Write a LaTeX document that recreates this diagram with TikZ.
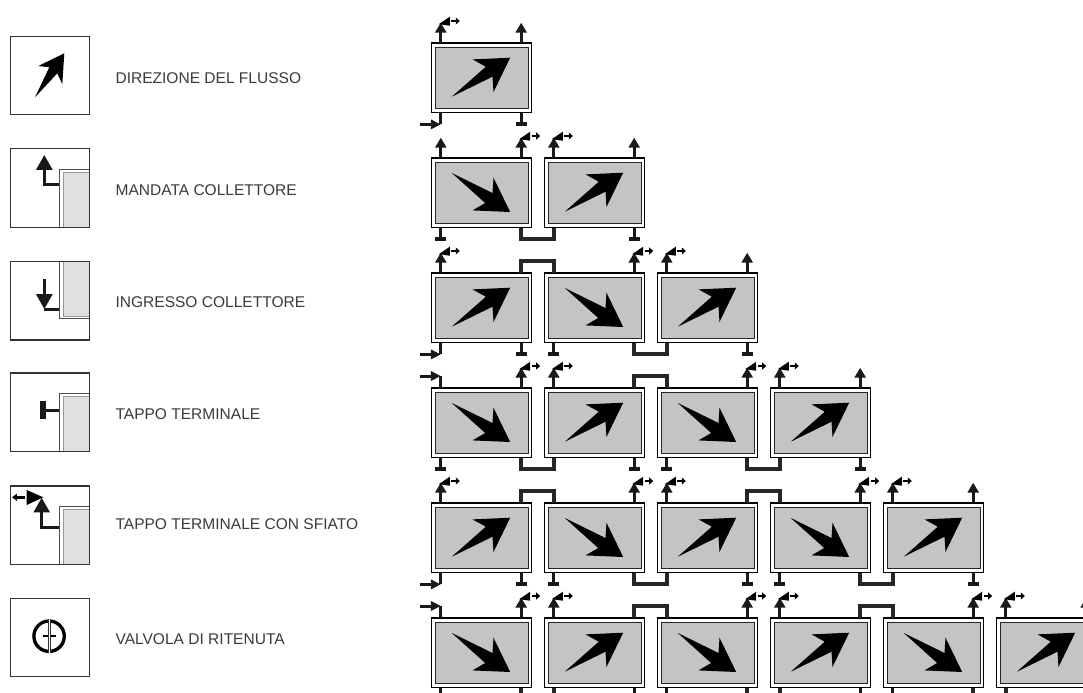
\documentclass[tikz,border=0pt]{standalone}
\usepackage{fontspec}
\setmainfont{Liberation Sans}
\usepackage{xcolor}
\usepackage{tikz}
\usetikzlibrary{arrows.meta}
\definecolor{panelgray}{HTML}{C3C4C6}
\definecolor{collgray}{HTML}{E0E0DE}
\definecolor{textgray}{HTML}{3A3A3A}

% Port symbols, #1 is the coordinate on the panel edge
\newcommand{\plainport}[1]{
    \coordinate (#1-end) at ([shift={(0,-20)}]#1);
    \draw[portarrow] (#1) -- (#1-end);
}
\newcommand{\ventport}[1]{
    \plainport{#1}
    \fill[shift={(#1)}] (-2,-18.5) -- (9,-26) -- (9,-17) -- cycle;
    \coordinate (#1-ventA) at ([shift={(10.5,-21.7)}]#1);
    \coordinate (#1-ventB) at ([shift={(19,-21.7)}]#1);
    \draw[ventline] (#1-ventA) -- (#1-ventB);
}
\newcommand{\capport}[1]{
    \coordinate (#1-end) at ([shift={(0,13.3)}]#1);
    \draw[portline, -{Rectangle[length=3pt,width=8.25pt]}] (#1) -- (#1-end);
}
% #2 is 1 below the panel, -1 above it
\newcommand{\inletport}[2]{
    \coordinate (#1-corner) at ([shift={(0,#2*11.7)}]#1);
    \coordinate (#1-tail) at ([shift={(-20.7,#2*11.7)}]#1);
    \draw[portline] (#1) -- (#1-corner);
    \draw[portline, -{Triangle[length=7.5pt,width=7pt]}] (#1-tail) -- (#1-corner);
}
\newcommand{\jumperlink}[3]{
    \coordinate (#1-over) at ([shift={(0,#3*11.5)}]#1);
    \draw[jumper] (#1) -- (#1-over) -| (#2);
}

\begin{document}
\begin{tikzpicture}[
    x=0.75pt, y=-0.75pt,
    panel/.style={
        draw=black,
        fill=white,
        line width=0.75pt,
        inner sep=0pt,
        minimum width=75.4pt,
        minimum height=51.75pt,
        anchor=north west
    },
    panelcore/.style={
        draw=black!85,
        fill=panelgray,
        line width=0.75pt,
        inner sep=0pt,
        minimum width=70.1pt,
        minimum height=46.1pt,
        anchor=north west
    },
    legbox/.style={
        draw=black!80,
        fill=white,
        line width=0.75pt,
        inner sep=0pt,
        minimum size=58.7pt,
        anchor=north west
    },
    collector/.style={
        draw=black!70,
        fill=white,
        line width=0.6pt,
        inner sep=0pt,
        minimum width=22pt,
        minimum height=43.3pt
    },
    collectorcore/.style={
        draw=black!40,
        fill=collgray,
        line width=0.5pt,
        inner sep=0pt,
        minimum width=19.7pt,
        minimum height=41.2pt
    },
    legtext/.style={
        anchor=west,
        inner sep=0pt,
        text=textgray,
        font=\fontsize{11.65}{13}\selectfont
    },
    portline/.style={draw=black!90, line width=2.25pt},
    portarrow/.style={portline, -{Triangle[length=7.5pt,width=8.25pt]}},
    ventline/.style={draw=black, line width=1.7pt, -{Triangle[length=3pt,width=5.2pt]}},
    jumper/.style={draw=black!85, line width=2.6pt},
    bigarrow/.style={fill=black}
]
    \useasboundingbox (0,0) rectangle (1083,693);
    \clip (0,0) rectangle (1083,693);

    % --- LEGEND ---
    \foreach \n/\boxy/\laby/\lab in {
        1/36/78/DIREZIONE DEL FLUSSO,
        2/148.3/190/MANDATA COLLETTORE,
        3/261/302.5/INGRESSO COLLETTORE,
        4/372.7/414.5/TAPPO TERMINALE,
        5/485.7/524.5/TAPPO TERMINALE CON SFIATO,
        6/597.7/639.5/VALVOLA DI RITENUTA} {
        \node(legbox-\n)[legbox] at (10.3,\boxy) {};
        \node(legtext-\n)[legtext] at (115.3,\laby) {\lab};
    }

    % Collector stub in the corner of a legend box
    \foreach \n in {2, 4, 5} {
        \node(coll-\n)[collector, anchor=north east] at ([shift={(0,20.6)}]legbox-\n.north east) {};
        \node(collcore-\n)[collectorcore, anchor=north east] at ([shift={(0,2.8)}]coll-\n.north east) {};
    }
    \node(coll-3)[collector, anchor=south east] at ([shift={(0,-21)}]legbox-3.south east) {};
    \node(collcore-3)[collectorcore, anchor=south east] at ([shift={(0,-2.8)}]coll-3.south east) {};

    % Box outline goes back over the collector
    \foreach \n in {2, 3, 4, 5} {
        \draw[black!80, line width=0.75pt] (legbox-\n.north west) rectangle (legbox-\n.south east);
    }

    % Flow direction
    \fill[bigarrow, shift={(legbox-1.north west)}] (24.7,61.3) -- (39,31.3) -- (28,30)
        -- (54,17.3) -- (52,48.3) -- (47,37.3) -- cycle;

    % Outlet
    \coordinate (mandata-start) at ([shift={(0,16)}]coll-2.north west);
    \coordinate (mandata-end) at ([shift={(34,6.7)}]legbox-2.north west);
    \draw[portline, -{Triangle[length=11.2pt,width=12pt]}] (mandata-start) -| (mandata-end);

    % Inlet
    \coordinate (ingresso-corner) at ([shift={(34,48)}]legbox-3.north west);
    \coordinate (ingresso-start) at ([shift={(34,18.3)}]legbox-3.north west);
    \coordinate (ingresso-end) at (coll-3.west |- ingresso-corner);
    \draw[portline] (ingresso-corner) -- (ingresso-end);
    \draw[portline, -{Triangle[length=11.2pt,width=12pt]}] (ingresso-start) -- (ingresso-corner);

    % End plug
    \coordinate (tappo-start) at ([shift={(0,16.7)}]coll-4.north west);
    \coordinate (tappo-end) at ([shift={(30,37.3)}]legbox-4.north west);
    \draw[portline, -{Rectangle[length=3.9pt,width=13pt]}] (tappo-start) -- (tappo-end);

    % End plug with vent
    \coordinate (sfiato-start) at ([shift={(0,21.4)}]coll-5.north west);
    \coordinate (sfiato-end) at ([shift={(31.4,12)}]legbox-5.north west);
    \draw[portline, -{Triangle[length=11pt,width=11.8pt]}] (sfiato-start) -| (sfiato-end);
    \fill[shift={(legbox-5.north west)}] (16.4,4.3) -- (16.4,19.3) -- (33,11.6) -- cycle;
    \coordinate (sfiato-ventA) at ([shift={(15,11.6)}]legbox-5.north west);
    \coordinate (sfiato-ventB) at ([shift={(1.7,11.6)}]legbox-5.north west);
    \draw[black, line width=1.9pt, -{Triangle[length=3.6pt,width=5pt]}] (sfiato-ventA) -- (sfiato-ventB);

    % Check valve
    \node(valve)[circle, draw=black, line width=2.5pt, inner sep=0pt, minimum size=22.8pt]
        at ([shift={(38.8,38.5)}]legbox-6.north west) {};
    \draw[black, line width=1.8pt] ([xshift=-4.9pt]valve.center) -- ([xshift=4.9pt]valve.center);
    \draw[white, line width=1.2pt] (valve.north) -- (valve.south);
    \draw[black!80, line width=0.4pt] ([xshift=-0.8pt]valve.north) -- ([xshift=-0.8pt]valve.south);
    \draw[black!80, line width=0.4pt] ([xshift=0.8pt]valve.north) -- ([xshift=0.8pt]valve.south);

    % --- PANEL FIELD ---
    % Loop through Rows (r) and Columns (c), a row has r panels
    \foreach \r [evaluate=\r as \rowy using 42.7+(\r-1)*115] in {1, ..., 6} {
        \foreach \c [evaluate=\c as \colx using 430.5+(\c-1)*113] in {1, ..., \r} {
            \node(panel-\r-\c)[panel] at (\colx,\rowy) {};
            \node(core-\r-\c)[panelcore] at ([shift={(4,3.8)}]panel-\r-\c.north west) {};
            \draw[black, line width=1.5pt] (panel-\r-\c.north west) -- (panel-\r-\c.north east);

            \coordinate (tl-\r-\c) at ([shift={(10.3,0)}]panel-\r-\c.north west);
            \coordinate (tr-\r-\c) at ([shift={(90.7,0)}]panel-\r-\c.north west);
            \coordinate (bl-\r-\c) at ([shift={(10.3,0)}]panel-\r-\c.south west);
            \coordinate (br-\r-\c) at ([shift={(90.7,0)}]panel-\r-\c.south west);

            % 0 -> flow rises to the right, 1 -> flow falls to the right
            \pgfmathtruncatemacro{\flowdir}{mod(\r-\c,2)}
            \ifnum\flowdir=0
                \fill[bigarrow, shift={(panel-\r-\c.north west)}] (21.3,54) -- (55.3,24) -- (42,16.7)
                    -- (79.7,15) -- (63,49.3) -- (62,34) -- cycle;
            \else
                \fill[bigarrow, shift={(panel-\r-\c.north west)}] (21.3,15.3) -- (54.7,45.3) -- (42,52.7)
                    -- (79.7,54.3) -- (63,20) -- (62,35.3) -- cycle;
            \fi
        }
    }

    % Ports and links between neighbouring panels
    \foreach \r in {1, ..., 6} {
        \foreach \c in {1, ..., \r} {
            \pgfmathtruncatemacro{\flowdir}{mod(\r-\c,2)}
            \pgfmathtruncatemacro{\nextc}{\c+1}
            \ifnum\flowdir=0
                \ventport{tl-\r-\c}
                \capport{br-\r-\c}
                \ifnum\c=\r
                    \plainport{tr-\r-\c}
                \else
                    \jumperlink{tr-\r-\c}{tl-\r-\nextc}{-1}
                \fi
                \ifnum\c=1
                    \inletport{bl-\r-\c}{1}
                \fi
            \else
                \ventport{tr-\r-\c}
                \capport{bl-\r-\c}
                \jumperlink{br-\r-\c}{bl-\r-\nextc}{1}
                \ifnum\c=1
                    \ifnum\r=2
                        \plainport{tl-\r-\c}
                    \else
                        \inletport{tl-\r-\c}{-1}
                    \fi
                \fi
            \fi
        }
    }
\end{tikzpicture}
\end{document}
